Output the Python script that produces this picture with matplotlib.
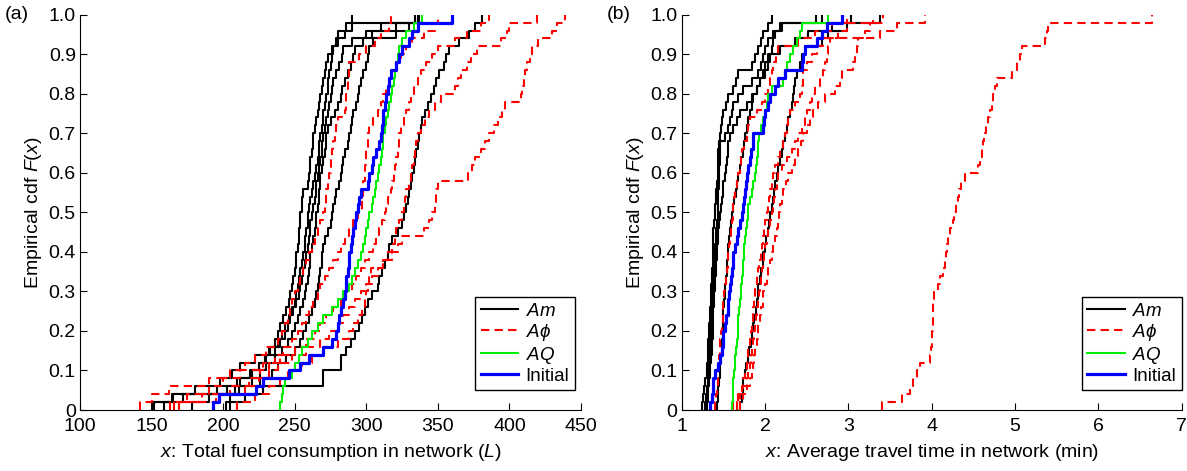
import numpy as np
import matplotlib
matplotlib.use('Agg')
import matplotlib.pyplot as plt

plt.rcParams['font.family'] = ['Liberation Sans', 'DejaVu Sans']
plt.rcParams['mathtext.fontset'] = 'custom'
plt.rcParams['mathtext.rm'] = 'Liberation Sans'
plt.rcParams['mathtext.it'] = 'Liberation Sans:italic'
plt.rcParams['mathtext.fallback'] = 'stixsans'

# ---- (a) total fuel consumption (L), 50 runs per curve ----
fuel_am = [
    [159, 172, 196, 210, 219, 225, 229, 233, 236, 238, 240, 242, 244, 246, 247, 248, 249, 250, 251, 251,
     252, 253, 253, 254, 254, 255, 255, 256, 259, 260, 261, 261, 262, 263, 263, 264, 265, 266, 267, 268,
     269, 270, 271, 272, 273, 276, 279, 280, 286, 290],
    [150, 164, 180, 198, 206, 212, 222, 232, 238, 241, 243, 246, 248, 250, 251, 252, 253, 254, 255, 256,
     257, 257, 258, 259, 259, 260, 261, 262, 263, 264, 265, 266, 267, 267, 268, 269, 270, 270, 271, 272,
     273, 273, 274, 275, 276, 277, 280, 285, 290, 334],
    [178, 190, 203, 212, 220, 225, 230, 236, 240, 243, 245, 247, 249, 251, 253, 254, 255, 256, 257, 258,
     259, 260, 261, 261, 262, 263, 264, 265, 265, 266, 267, 268, 269, 269, 270, 271, 272, 273, 274, 275,
     276, 277, 279, 281, 283, 284, 290, 300, 321, 336],
    [202, 205, 211, 220, 226, 230, 236, 241, 245, 248, 250, 252, 254, 256, 257, 258, 259, 260, 261, 261,
     262, 263, 264, 265, 265, 266, 267, 267, 268, 268, 269, 270, 271, 272, 272, 273, 275, 278, 280, 282,
     283, 285, 287, 289, 291, 292, 298, 304, 310, 337],
    [152, 165, 208, 226, 234, 238, 244, 250, 254, 256, 258, 260, 262, 264, 265, 266, 267, 268, 269, 269,
     270, 271, 273, 275, 276, 277, 278, 279, 281, 282, 283, 284, 285, 287, 288, 289, 290, 291, 293, 294,
     295, 296, 298, 300, 301, 302, 305, 321, 330, 336],
    [205, 215, 228, 270, 270, 282, 282, 286, 289, 292, 295, 297, 299, 301, 304, 308, 309, 311, 313, 315,
     316, 318, 322, 325, 326, 328, 329, 330, 331, 332, 333, 334, 335, 336, 337, 338, 339, 341, 343, 345,
     347, 349, 351, 354, 356, 358, 365, 372, 376, 381],
]
fuel_aphi = [
    [142, 150, 162, 190, 205, 215, 222, 230, 238, 241, 243, 245, 247, 248, 250, 252, 254, 256, 258, 260,
     262, 264, 266, 268, 270, 271, 272, 272, 273, 274, 275, 275, 276, 277, 278, 279, 280, 285, 286, 286,
     287, 287, 288, 288, 295, 300, 306, 310, 316, 317],
    [163, 175, 190, 200, 212, 228, 236, 242, 248, 252, 255, 258, 260, 263, 266, 268, 271, 274, 277, 280,
     282, 285, 288, 291, 294, 297, 297, 298, 298, 299, 299, 300, 300, 301, 301, 302, 305, 308, 310, 312,
     314, 316, 318, 321, 324, 328, 332, 340, 348, 350],
    [166, 185, 205, 218, 226, 232, 240, 250, 258, 264, 268, 272, 277, 282, 286, 290, 293, 296, 299, 302,
     305, 307, 309, 311, 313, 314, 315, 317, 318, 319, 320, 321, 322, 323, 323, 324, 326, 328, 330, 331,
     333, 336, 338, 342, 346, 350, 362, 370, 380, 386],
    [169, 195, 215, 225, 232, 238, 248, 258, 268, 274, 280, 284, 288, 292, 296, 300, 304, 308, 312, 315,
     318, 320, 321, 323, 325, 326, 327, 328, 330, 331, 332, 333, 334, 335, 336, 338, 341, 344, 348, 352,
     362, 364, 366, 370, 373, 377, 394, 398, 400, 419],
    [210, 222, 232, 240, 245, 255, 262, 270, 280, 288, 291, 294, 297, 299, 300, 301, 302, 303, 312, 318,
     322, 325, 340, 344, 346, 348, 349, 349, 350, 371, 374, 376, 380, 383, 386, 389, 392, 395, 397, 408,
     409, 410, 411, 412, 414, 416, 420, 430, 433, 439],
]
fuel_aq = [240, 241, 242, 243, 248, 250, 253, 255, 259, 262, 266, 270, 276, 280, 284, 288, 290, 292, 294, 296,
           298, 299, 300, 301, 302, 304, 305, 306, 307, 308, 309, 310, 311, 312, 312, 313, 314, 315, 316, 317,
           318, 319, 320, 321, 322, 323, 325, 328, 333, 339]
fuel_init = [193, 197, 223, 228, 246, 254, 260, 270, 276, 279, 280, 281, 282, 284, 285, 286, 286, 287, 288, 288,
             289, 290, 291, 292, 293, 294, 295, 296, 301, 302, 304, 305, 307, 309, 310, 311, 312, 312, 313, 314,
             315, 316, 317, 321, 323, 325, 330, 332, 336, 360]

# ---- (b) average travel time (min) ----
time_am = [
    [1.24, 1.26, 1.27, 1.28, 1.30, 1.30, 1.31, 1.32, 1.32, 1.33, 1.33, 1.34, 1.34, 1.35, 1.35, 1.35, 1.36,
     1.36, 1.37, 1.37, 1.37, 1.38, 1.38, 1.39, 1.40, 1.40, 1.41, 1.41, 1.42, 1.43, 1.43, 1.44, 1.44, 1.45,
     1.46, 1.47, 1.48, 1.50, 1.53, 1.56, 1.62, 1.65, 1.68, 1.84, 1.88, 1.92, 1.95, 1.98, 2.04, 2.08],
    [1.28, 1.29, 1.30, 1.31, 1.32, 1.32, 1.33, 1.34, 1.34, 1.35, 1.35, 1.36, 1.36, 1.37, 1.37, 1.38, 1.38,
     1.39, 1.39, 1.40, 1.40, 1.41, 1.41, 1.42, 1.43, 1.43, 1.44, 1.44, 1.45, 1.45, 1.45, 1.46, 1.46, 1.46,
     1.52, 1.55, 1.58, 1.60, 1.62, 1.68, 1.74, 1.84, 1.92, 1.95, 1.97, 2.00, 2.04, 2.10, 2.18, 2.61],
    [1.30, 1.31, 1.32, 1.33, 1.34, 1.34, 1.35, 1.36, 1.36, 1.37, 1.37, 1.38, 1.38, 1.39, 1.39, 1.40, 1.40,
     1.41, 1.41, 1.42, 1.42, 1.43, 1.44, 1.45, 1.46, 1.47, 1.48, 1.49, 1.50, 1.52, 1.53, 1.54, 1.55, 1.56,
     1.58, 1.62, 1.66, 1.70, 1.78, 1.84, 1.90, 1.94, 1.98, 2.00, 2.04, 2.08, 2.10, 2.12, 2.20, 2.68],
    [1.42, 1.43, 1.44, 1.45, 1.46, 1.46, 1.47, 1.48, 1.48, 1.49, 1.49, 1.50, 1.50, 1.51, 1.52, 1.52, 1.53,
     1.54, 1.54, 1.55, 1.56, 1.57, 1.58, 1.59, 1.60, 1.61, 1.63, 1.65, 1.66, 1.68, 1.70, 1.71, 1.73, 1.75,
     1.76, 1.78, 1.80, 1.82, 1.84, 1.86, 1.90, 1.94, 2.00, 2.04, 2.06, 2.18, 2.36, 2.52, 2.80, 3.03],
    [1.70, 1.72, 1.73, 1.74, 1.76, 1.77, 1.79, 1.81, 1.83, 1.84, 1.86, 1.87, 1.89, 1.90, 1.91, 1.92, 1.94,
     1.95, 1.97, 1.98, 2.00, 2.01, 2.03, 2.05, 2.06, 2.08, 2.09, 2.11, 2.12, 2.14, 2.16, 2.18, 2.20, 2.22,
     2.24, 2.26, 2.28, 2.30, 2.32, 2.34, 2.35, 2.36, 2.38, 2.42, 2.44, 2.48, 2.68, 2.76, 2.98, 3.38],
]
time_aphi = [
    [1.40, 1.41, 1.42, 1.43, 1.44, 1.44, 1.45, 1.46, 1.46, 1.47, 1.48, 1.49, 1.50, 1.50, 1.51, 1.52, 1.53,
     1.54, 1.55, 1.56, 1.57, 1.58, 1.59, 1.60, 1.61, 1.62, 1.63, 1.64, 1.66, 1.68, 1.70, 1.71, 1.72, 1.75,
     1.78, 1.80, 1.82, 1.90, 1.96, 2.00, 2.04, 2.06, 2.08, 2.10, 2.13, 2.16, 2.40, 2.60, 2.80, 2.98],
    [1.62, 1.68, 1.72, 1.74, 1.76, 1.78, 1.79, 1.80, 1.82, 1.83, 1.84, 1.85, 1.86, 1.87, 1.88, 1.88, 1.90,
     1.91, 1.93, 1.95, 1.96, 1.97, 1.99, 2.00, 2.02, 2.03, 2.05, 2.06, 2.08, 2.10, 2.12, 2.15, 2.18, 2.21,
     2.24, 2.26, 2.28, 2.30, 2.36, 2.42, 2.44, 2.45, 2.46, 2.50, 2.56, 2.62, 2.70, 2.88, 2.98, 3.42],
    [1.66, 1.70, 1.74, 1.78, 1.80, 1.82, 1.83, 1.84, 1.86, 1.87, 1.88, 1.89, 1.90, 1.92, 1.93, 1.94, 1.95,
     1.96, 1.98, 1.99, 2.00, 2.02, 2.04, 2.06, 2.08, 2.09, 2.11, 2.12, 2.14, 2.16, 2.20, 2.26, 2.32, 2.36,
     2.40, 2.44, 2.48, 2.50, 2.54, 2.56, 2.60, 2.66, 2.70, 2.72, 2.74, 2.76, 2.78, 3.38, 3.58, 3.92],
    [1.70, 1.74, 1.78, 1.82, 1.84, 1.86, 1.87, 1.88, 1.90, 1.91, 1.92, 1.94, 1.95, 1.97, 1.98, 2.00, 2.02,
     2.04, 2.06, 2.08, 2.10, 2.12, 2.14, 2.15, 2.17, 2.18, 2.20, 2.22, 2.25, 2.28, 2.32, 2.36, 2.40, 2.43,
     2.46, 2.50, 2.54, 2.58, 2.64, 2.72, 2.84, 2.90, 2.92, 3.06, 3.08, 3.10, 3.12, 3.20, 3.26, 3.30],
    [3.40, 3.64, 3.74, 3.78, 3.82, 3.86, 3.98, 3.99, 4.00, 4.00, 4.01, 4.01, 4.02, 4.02, 4.03, 4.08, 4.10,
     4.14, 4.16, 4.17, 4.18, 4.20, 4.22, 4.25, 4.27, 4.29, 4.31, 4.33, 4.35, 4.40, 4.56, 4.58, 4.60, 4.62,
     4.63, 4.65, 4.67, 4.70, 4.72, 4.74, 4.76, 4.78, 4.96, 5.02, 5.06, 5.08, 5.36, 5.38, 5.40, 6.64],
]
time_aq = [1.60, 1.61, 1.62, 1.62, 1.63, 1.64, 1.64, 1.65, 1.66, 1.67, 1.68, 1.68, 1.69, 1.70, 1.71, 1.71,
           1.72, 1.73, 1.74, 1.75, 1.75, 1.76, 1.77, 1.78, 1.79, 1.80, 1.82, 1.84, 1.86, 1.88, 1.89, 1.90,
           1.91, 1.92, 1.93, 1.95, 1.97, 2.00, 2.02, 2.04, 2.08, 2.22, 2.24, 2.26, 2.30, 2.34, 2.38, 2.42,
           2.44, 2.76]
time_init = [1.34, 1.36, 1.37, 1.38, 1.40, 1.43, 1.46, 1.48, 1.49, 1.50, 1.52, 1.53, 1.55, 1.56, 1.57, 1.58,
             1.59, 1.60, 1.61, 1.62, 1.64, 1.66, 1.68, 1.70, 1.72, 1.74, 1.75, 1.76, 1.77, 1.78, 1.80, 1.82,
             1.83, 1.85, 1.86, 1.98, 1.99, 2.00, 2.03, 2.06, 2.12, 2.16, 2.24, 2.44, 2.46, 2.48, 2.62, 2.68,
             2.74, 2.92]

yticks = [0, 0.1, 0.2, 0.3, 0.4, 0.5, 0.6, 0.7, 0.8, 0.9, 1.0]
yticklabels = ['0', '0.1', '0.2', '0.3', '0.4', '0.5', '0.6', '0.7', '0.8', '0.9', '1.0']


def ecdf_steps(vals):
    # staircase like matlab cdfplot, starting at (min, 0) and ending at (max, 1)
    x = np.sort(np.asarray(vals, dtype=float))
    n = len(x)
    xs = np.repeat(x, 2)
    ys = np.empty(2 * n)
    ys[0::2] = np.arange(n) / n
    ys[1::2] = np.arange(1, n + 1) / n
    return xs, ys


def draw_panel(ax, am, aphi, aq, init):
    for i, v in enumerate(am):
        ax.plot(*ecdf_steps(v), color='black', lw=1.5, label='$Am$' if i == 0 else None)
    for i, v in enumerate(aphi):
        ax.plot(*ecdf_steps(v), color='red', lw=1.5, dashes=(4, 2.5),
                label=r'$A\phi$' if i == 0 else None)
    ax.plot(*ecdf_steps(aq), color='#00ee00', lw=1.5, label='$AQ$')
    ax.plot(*ecdf_steps(init), color='blue', lw=2.3, label='Initial')
    ax.set_ylim(0, 1)
    ax.set_yticks(yticks)
    ax.set_yticklabels(yticklabels)
    ax.set_ylabel('Empirical cdf $F$($x$)', fontsize=14, labelpad=3)
    ax.spines['top'].set_visible(False)
    ax.spines['right'].set_visible(False)
    ax.tick_params(direction='in', length=5, labelsize=14)
    ax.tick_params(axis='x', pad=6)
    ax.tick_params(axis='y', pad=3)


def add_legend(ax, anchor_x):
    leg = ax.legend(loc='lower right', bbox_to_anchor=(anchor_x, 0.05), borderaxespad=0,
                    fancybox=False, edgecolor='black', framealpha=1, fontsize=13.5,
                    handlelength=2.0, labelspacing=0.1, borderpad=0.3, handletextpad=0.4)
    leg.get_frame().set_linewidth(1.0)


fig = plt.figure(figsize=(11.87, 4.71), dpi=100)
ax1 = fig.add_axes([0.0674, 0.1295, 0.4221, 0.8393])
ax2 = fig.add_axes([0.5743, 0.1295, 0.4212, 0.8393])

draw_panel(ax1, fuel_am, fuel_aphi, fuel_aq, fuel_init)
ax1.set_xlim(100, 450)
ax1.set_xticks(range(100, 451, 50))
ax1.set_xlabel('$x$: Total fuel consumption in network ($L$)', fontsize=14, labelpad=5)
add_legend(ax1, 0.988)

draw_panel(ax2, time_am, time_aphi, time_aq, time_init)
ax2.set_xlim(1, 7)
ax2.set_xticks(range(1, 8))
ax2.set_xlabel('$x$: Average travel time in network (min)', fontsize=14, labelpad=5)
add_legend(ax2, 1.0)

fig.text(0.004, 0.97, '(a)', fontsize=14, va='center')
fig.text(0.511, 0.97, '(b)', fontsize=14, va='center')

fig.savefig('out.png', dpi=100)
